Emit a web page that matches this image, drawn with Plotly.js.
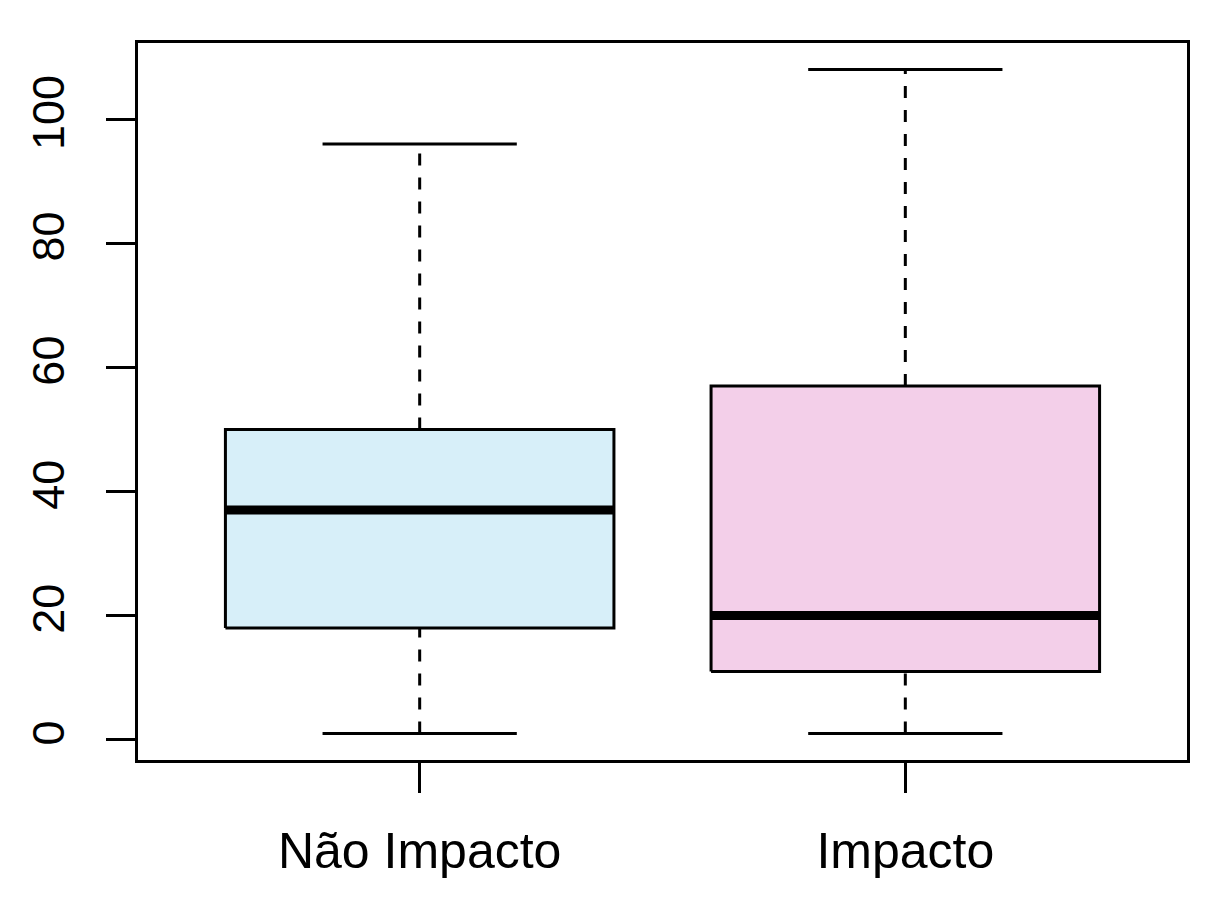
<!DOCTYPE html>
<html>
<head>
<meta charset="utf-8">
<script src="https://cdn.plot.ly/plotly-3.0.1.min.js"></script>
<style>html,body{margin:0;padding:0;background:#fff;}#chart{width:1208px;height:908px;}</style>
</head>
<body>
<div id="chart"></div>
<script>
// Data (five-number summaries)
const categories = ["Não Impacto", "Impacto"];
const lowerWhisker = [1, 1];
const q1 = [18, 11];
const median = [37, 20];
const q3 = [50, 57];
const upperWhisker = [96, 108];
const fillColors = ["#D7EFF9", "#F3CFE9"];
const yTickVals = [0, 20, 40, 60, 80, 100];

const positions = categories.map((_, i) => i + 1);
const halfBox = 0.4;
const halfCap = 0.2;

const traces = [];
positions.forEach((p, i) => {
  // whiskers (dashed)
  traces.push({x: [p, p], y: [lowerWhisker[i], q1[i]], mode: 'lines', line: {color: '#000', width: 3, dash: '12px,12px'}, hoverinfo: 'skip', showlegend: false});
  traces.push({x: [p, p], y: [q3[i], upperWhisker[i]], mode: 'lines', line: {color: '#000', width: 3, dash: '12px,12px'}, hoverinfo: 'skip', showlegend: false});
  // caps
  traces.push({x: [p - halfCap, p + halfCap], y: [lowerWhisker[i], lowerWhisker[i]], mode: 'lines', line: {color: '#000', width: 3}, hoverinfo: 'skip', showlegend: false});
  traces.push({x: [p - halfCap, p + halfCap], y: [upperWhisker[i], upperWhisker[i]], mode: 'lines', line: {color: '#000', width: 3}, hoverinfo: 'skip', showlegend: false});
  // box
  traces.push({x: [p - halfBox, p + halfBox, p + halfBox, p - halfBox, p - halfBox], y: [q1[i], q1[i], q3[i], q3[i], q1[i]], mode: 'lines', fill: 'toself', fillcolor: fillColors[i], line: {color: '#000', width: 3}, hoverinfo: 'skip', showlegend: false});
  // median
  traces.push({x: [p - halfBox, p + halfBox], y: [median[i], median[i]], mode: 'lines', line: {color: '#000', width: 9}, hoverinfo: 'skip', showlegend: false});
});

const font = {family: 'Liberation Sans, Arial, Helvetica, sans-serif', color: '#000'};
const layout = {
  width: 1208, height: 908,
  margin: {l: 138, r: 21, t: 43, b: 148, pad: 0},
  paper_bgcolor: '#fff', plot_bgcolor: '#fff',
  showlegend: false,
  xaxis: {
    range: [0.42, 2.58], showgrid: false, zeroline: false,
    showline: true, mirror: true, linecolor: '#000', linewidth: 3,
    tickvals: positions, ticktext: categories,
    ticks: 'outside', ticklen: 30, tickwidth: 3, tickcolor: '#000',
    ticklabelstandoff: 15,
    tickfont: Object.assign({size: 50}, font)
  },
  yaxis: {
    range: [-3.28, 112.28], showgrid: false, zeroline: false,
    showline: true, mirror: true, linecolor: '#000', linewidth: 3,
    tickvals: yTickVals, ticktext: yTickVals.map(String),
    ticks: 'outside', ticklen: 29, tickwidth: 3, tickcolor: '#000',
    tickangle: -90, ticklabelstandoff: 24,
    tickfont: Object.assign({size: 45}, font)
  }
};
Plotly.newPlot('chart', traces, layout, {staticPlot: true, displayModeBar: false});
</script>
</body>
</html>
